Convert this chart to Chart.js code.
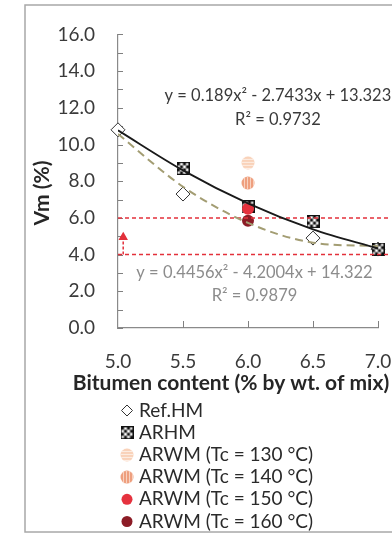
<!DOCTYPE html>
<html>
<head>
<meta charset="utf-8">
<script src="https://cdn.jsdelivr.net/npm/chart.js@4.4.1/dist/chart.umd.min.js"></script>
<style>
  html, body { margin: 0; padding: 0; background: #fff; }
  #wrap { width: 392px; height: 534px; }
</style>
</head>
<body>
<div id="wrap"><canvas id="vmChart" width="392" height="534"></canvas></div>
<script>
// ---- data ----
const bitumen = [5.0, 5.5, 6.0, 6.5, 7.0];
const refHM = [10.8, 7.3, null, 4.9, 4.3];
const arhm = [null, 8.7, 6.6, 5.8, 4.3];
const arwmLabels = ['ARWM (Tc = 130 °C)', 'ARWM (Tc = 140 °C)', 'ARWM (Tc = 150 °C)', 'ARWM (Tc = 160 °C)'];
const arwmX = 6.0;
const arwmVm = [9.0, 7.9, 6.5, 5.85];
// trendlines, read at each bitumen content
const fitArhm = [10.77, 8.59, 6.79, 5.37, 4.33];
const fitRef = [10.57, 7.70, 5.73, 4.65, 4.46];
// red limit lines and arrows
const limitVm = [4.0, 6.0];
const limitEndX = 7.08;
const arrowUpX = 5.04, arrowUpY = [4.0, 4.95];
const arrowDownY = [6.0, 5.15];
const eqArhm = ['y = 0.189x² - 2.7433x + 13.323', 'R² = 0.9732'];
const eqRef = ['y = 0.4456x² - 4.2004x + 14.322', 'R² = 0.9879'];

const FONT = 'Lato, "Open Sans", sans-serif';
const RED = '#e3303b';

const pts = (xs, ys) => xs.map((x, i) => ({ x, y: ys[i] }));

function makeMarker(size, draw) {
  const c = document.createElement('canvas');
  c.width = size; c.height = size;
  draw(c.getContext('2d'), size);
  return c;
}

const checkerMark = makeMarker(13, (g, s) => {
  g.fillStyle = '#fff'; g.fillRect(0, 0, s, s);
  g.fillStyle = '#111';
  for (let i = 0; i < 4; i++) for (let j = 0; j < 4; j++) {
    if ((i + j) % 2 === 0) g.fillRect(0.5 + i * 3, 0.5 + j * 3, 3, 3);
  }
  g.strokeStyle = '#111'; g.lineWidth = 1.2; g.strokeRect(0.6, 0.6, s - 1.2, s - 1.2);
});

function stripedDot(fill, stripe, vertical) {
  return makeMarker(14, (g, s) => {
    g.beginPath(); g.arc(s / 2, s / 2, s / 2 - 0.5, 0, Math.PI * 2);
    g.fillStyle = fill; g.fill();
    g.save(); g.clip();
    g.strokeStyle = stripe; g.lineWidth = 1;
    for (let k = 3; k < s; k += 3) {
      g.beginPath();
      if (vertical) { g.moveTo(k + 0.5, 0); g.lineTo(k + 0.5, s); }
      else { g.moveTo(0, k + 0.5); g.lineTo(s, k + 0.5); }
      g.stroke();
    }
    g.restore();
  });
}

const dot130 = stripedDot('#f9d2b9', '#fdeee4', false);
const dot140 = stripedDot('#ee9f7e', '#f8d2c0', true);

const markerDefs = [
  { style: dot130, bg: '#f9d2b9' },
  { style: dot140, bg: '#ee9f7e' },
  { style: 'circle', bg: '#e5323e' },
  { style: 'circle', bg: '#8c1c26' }
];

const datasets = [
  {
    label: 'Ref.HM', inLegend: true, data: pts(bitumen, refHM),
    pointStyle: 'rectRot', pointRadius: 7, backgroundColor: '#fff', borderColor: '#333', borderWidth: 1,
    order: 5, clip: false
  },
  {
    label: 'ARHM', inLegend: true, data: pts(bitumen, arhm),
    pointStyle: checkerMark, pointRadius: 6, backgroundColor: '#fff', borderColor: '#111', borderWidth: 0,
    order: 4, clip: false
  }
];
arwmLabels.forEach((lbl, i) => {
  datasets.push({
    label: lbl, inLegend: true, data: [{ x: arwmX, y: arwmVm[i] }],
    pointStyle: markerDefs[i].style, pointRadius: 6, backgroundColor: markerDefs[i].bg,
    borderColor: markerDefs[i].bg, borderWidth: 0, order: i === 2 ? 2 : 3, clip: false
  });
});
datasets.push(
  {
    type: 'line', data: pts(bitumen, fitArhm), borderColor: '#1a1a1a', borderWidth: 1.8,
    pointRadius: 0, cubicInterpolationMode: 'monotone', fill: false, order: 1
  },
  {
    type: 'line', data: pts(bitumen, fitRef), borderColor: '#a39d73', borderWidth: 2,
    borderDash: [8, 5], pointRadius: 0, cubicInterpolationMode: 'monotone', fill: false, order: 1
  },
  {
    type: 'line', data: [{ x: 5.0, y: limitVm[1] }, { x: limitEndX, y: limitVm[1] }, { x: limitEndX, y: arrowDownY[1] }],
    borderColor: RED, borderWidth: 1.5, borderDash: [4, 3], backgroundColor: RED,
    pointStyle: 'triangle', pointRadius: [0, 0, 4], pointRotation: 180, order: 1, clip: false
  },
  {
    type: 'line', data: [{ x: 5.0, y: limitVm[0] }, { x: limitEndX, y: limitVm[0] }],
    borderColor: RED, borderWidth: 1.5, borderDash: [4, 3], pointRadius: 0, order: 1, clip: false
  },
  {
    type: 'line', data: [{ x: arrowUpX, y: arrowUpY[0] }, { x: arrowUpX, y: arrowUpY[1] }],
    borderColor: RED, borderWidth: 1.5, borderDash: [3, 2], backgroundColor: RED,
    pointStyle: 'triangle', pointRadius: [0, 4], order: 1, clip: false
  }
);

const decor = {
  id: 'decor',
  beforeDraw(chart) {
    const ctx = chart.ctx;
    ctx.save();
    ctx.strokeStyle = '#a8a8a8';
    ctx.lineWidth = 1.5;
    ctx.strokeRect(25, 5, 420, 527);
    ctx.restore();
  },
  beforeDatasetsDraw(chart) {
    // inside tick marks
    const { ctx, scales: { x, y } } = chart;
    ctx.save();
    ctx.strokeStyle = '#808080';
    ctx.lineWidth = 1;
    for (let v = 0; v <= 16; v++) {
      const py = Math.round(y.getPixelForValue(v)) + 0.5;
      ctx.beginPath(); ctx.moveTo(x.left, py); ctx.lineTo(x.left + 5, py); ctx.stroke();
    }
    [5.5, 6.0, 6.5, 7.0].forEach(v => {
      const px = Math.round(x.getPixelForValue(v)) + 0.5;
      ctx.beginPath(); ctx.moveTo(px, y.bottom); ctx.lineTo(px, y.bottom - 7); ctx.stroke();
    });
    ctx.restore();
  },
  afterDraw(chart) {
    const { ctx, scales: { x, y } } = chart;
    ctx.save();
    ctx.textAlign = 'center';
    ctx.textBaseline = 'middle';
    ctx.font = '16.5px ' + FONT;
    ctx.fillStyle = '#3a3a3a';
    ctx.fillText(eqArhm[0], x.getPixelForValue(6.23), y.getPixelForValue(12.66));
    ctx.fillText(eqArhm[1], x.getPixelForValue(6.23), y.getPixelForValue(11.37));
    ctx.fillStyle = '#8c8c8c';
    ctx.fillText(eqRef[0], x.getPixelForValue(6.05), y.getPixelForValue(3.02));
    ctx.fillText(eqRef[1], x.getPixelForValue(6.05), y.getPixelForValue(1.78));

    // axis titles
    ctx.fillStyle = '#262626';
    ctx.font = 'bold 21px ' + FONT;
    ctx.fillText('Bitumen content (% by wt. of mix)', 231, 383);
    ctx.save();
    ctx.translate(42, 193);
    ctx.rotate(-Math.PI / 2);
    ctx.fillText('Vm (%)', 0, 0);
    ctx.restore();

    // legend, one entry per row
    ctx.textAlign = 'left';
    ctx.font = '19px ' + FONT;
    let ly = 410.5;
    chart.data.datasets.forEach(ds => {
      if (!ds.inLegend) return;
      ctx.fillStyle = ds.backgroundColor;
      ctx.strokeStyle = ds.borderColor;
      ctx.lineWidth = ds.borderWidth;
      Chart.helpers.drawPoint(ctx, {
        pointStyle: ds.pointStyle, rotation: 0,
        radius: typeof ds.pointStyle === 'string' ? 5.5 : 6,
        borderWidth: ds.borderWidth
      }, 127, ly);
      ctx.fillStyle = '#2a2a2a';
      ctx.fillText(ds.label, 139, ly);
      ly += 22.2;
    });
    ctx.restore();
  }
};

new Chart(document.getElementById('vmChart'), {
  type: 'scatter',
  data: { datasets },
  options: {
    responsive: false,
    animation: false,
    layout: { padding: { top: 31, right: 14, bottom: 156, left: 0 } },
    plugins: { legend: { display: false }, tooltip: { enabled: false } },
    scales: {
      x: {
        type: 'linear', min: 5, max: 7,
        afterFit: s => { s.height = 50; s.paddingRight = 0; },
        grid: { display: false, drawTicks: false },
        border: { display: true, color: '#8a8a8a', width: 1.2 },
        ticks: {
          stepSize: 0.5, padding: 22, color: '#3a3a3a',
          font: { family: FONT, size: 19 },
          callback: v => v.toFixed(1)
        }
      },
      y: {
        min: 0, max: 16,
        afterFit: s => { s.width = 118; },
        grid: { display: false, drawTicks: false },
        border: { display: true, color: '#8a8a8a', width: 1.2 },
        ticks: {
          stepSize: 2, padding: 23, color: '#3a3a3a',
          font: { family: FONT, size: 19 },
          callback: v => v.toFixed(1)
        }
      }
    }
  },
  plugins: [decor]
});
</script>
</body>
</html>
